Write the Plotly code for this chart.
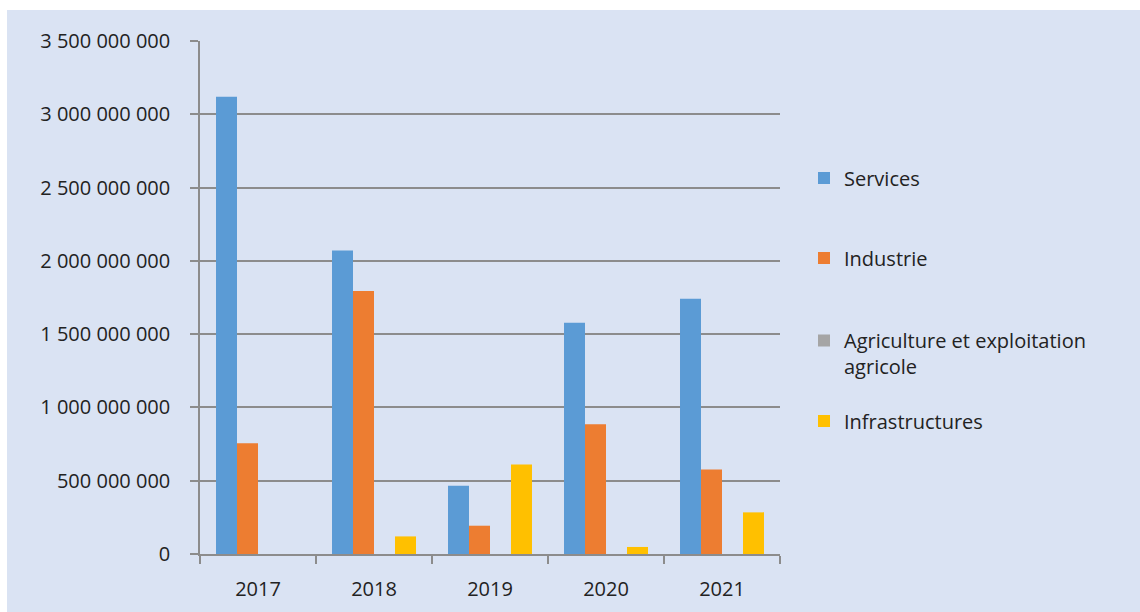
import plotly.graph_objects as go

# Investment amounts by sector and year
years = ["2017", "2018", "2019", "2020", "2021"]
services = [3.12e9, 2.07e9, 0.465e9, 1.577e9, 1.742e9]
industrie = [0.755e9, 1.795e9, 0.193e9, 0.886e9, 0.577e9]
agriculture = [0, 0, 0, 0, 0]
infrastructures = [0, 0.12e9, 0.611e9, 0.048e9, 0.284e9]

series_names = ["Services", "Industrie", "Agriculture et exploitation<br>agricole", "Infrastructures"]
series_values = [services, industrie, agriculture, infrastructures]
series_colors = ["#5b9bd5", "#ed7d31", "#a5a5a5", "#ffc000"]

W, H = 1140, 612
ML, MR, MT, MB = 200, 360, 41, 58
PW, PH = W - ML - MR, H - MT - MB

def px_x(x):
    return (x - ML) / PW

def px_y(y):
    return (H - MB - y) / PH

FONT = "Open Sans"
TXT = "#222222"
GRID = "#8c8c8c"
BG = "#dae3f3"

legend_ids = ["legend", "legend2", "legend3", "legend4"]
legend_y = [178, 258, 338, 421]

fig = go.Figure()
for name, vals, col, lid in zip(series_names, series_values, series_colors, legend_ids):
    fig.add_trace(go.Bar(x=years, y=vals, name=name, marker=dict(color=col, line=dict(width=0)),
                         legend=lid, showlegend=True))

layout_legends = {}
for i, (lid, ly) in enumerate(zip(legend_ids, legend_y)):
    layout_legends[lid] = dict(
        x=px_x(804), xanchor="left",
        y=px_y(ly), yanchor="middle",
        bgcolor="rgba(0,0,0,0)",
        font=dict(family=FONT, size=20, color=TXT),
        valign="top",
        itemclick=False, itemdoubleclick=False,
        visible=True,
    )
# the two-line entry is anchored by its first line
layout_legends["legend3"]["yanchor"] = "top"
layout_legends["legend3"]["y"] = px_y(338 - 17)

fig.update_layout(
    width=W, height=H,
    margin=dict(l=ML, r=MR, t=MT, b=MB, pad=0, autoexpand=False),
    paper_bgcolor="white",
    plot_bgcolor="rgba(0,0,0,0)",
    showlegend=True,
    barmode="group",
    bargap=0.276,
    bargroupgap=0,
    separators=", ",
    font=dict(family=FONT, size=20, color=TXT),
    shapes=[dict(type="rect", xref="paper", yref="paper",
                 x0=px_x(7), x1=px_x(W + 5), y0=px_y(H + 5), y1=px_y(10),
                 fillcolor=BG, line=dict(width=0), layer="below")],
    **layout_legends,
)

fig.update_xaxes(
    type="category", automargin=False,
    showline=True, linecolor=GRID, linewidth=1.5,
    ticks="outside", tickson="boundaries", ticklen=8, tickwidth=1.5, tickcolor=GRID,
    showgrid=False,
    tickfont=dict(family=FONT, size=20, color=TXT),
    ticklabelstandoff=16,
)
fig.update_yaxes(
    range=[0, 3.5e9], dtick=5e8, tickformat=",d", automargin=False,
    showline=True, linecolor=GRID, linewidth=1.5,
    ticks="outside", ticklen=8, tickwidth=1.5, tickcolor=GRID,
    showgrid=True, gridcolor=GRID, gridwidth=1.5,
    zeroline=False,
    tickfont=dict(family=FONT, size=20, color=TXT),
    ticklabelstandoff=16,
)

fig.write_html("out.html")
